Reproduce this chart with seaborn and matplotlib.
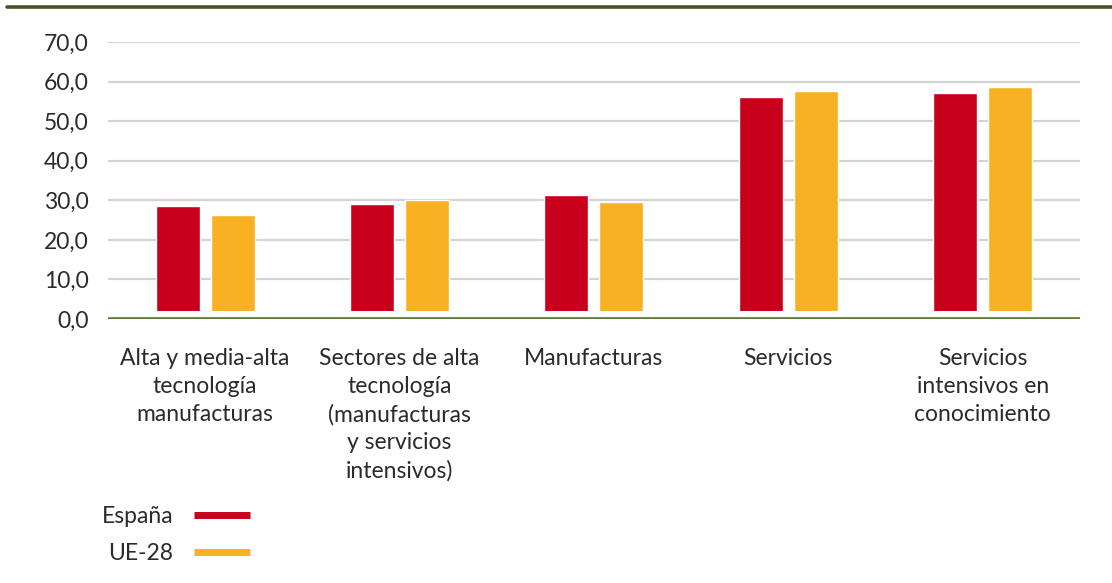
import matplotlib
matplotlib.use('Agg')

import pandas as pd
import matplotlib.pyplot as plt
import seaborn as sns
from matplotlib.lines import Line2D

# -------------------------------
# Data
# -------------------------------
categories = [
    "Alta y media-alta\ntecnología\nmanufacturas",
    "Sectores de alta\ntecnología\n(manufacturas\ny servicios\nintensivos)",
    "Manufacturas",
    "Servicios",
    "Servicios\nintensivos en\nconocimiento",
]
espana = [28.5, 29.0, 31.3, 56.1, 57.1]
ue28 = [26.3, 30.1, 29.5, 57.6, 58.6]
series_names = ["España", "UE-28"]
yticks = [0, 10, 20, 30, 40, 50, 60, 70]

colors = {"España": "#c8001c", "UE-28": "#f7b122"}
text_color = "#2b2b2b"
fs = 16.5

df = pd.DataFrame({
    "categoria": categories * 2,
    "serie": [series_names[0]] * len(categories) + [series_names[1]] * len(categories),
    "valor": espana + ue28,
})

sns.set_style("white")
plt.rcParams['font.family'] = ['Lato', 'DejaVu Sans']

fig = plt.figure(figsize=(11.12, 5.83), dpi=100)
ax = fig.add_axes([0.0971, 0.4528, 0.8740, 0.4752])

sns.barplot(data=df, x="categoria", y="valor", hue="serie", palette=colors,
            width=0.566, gap=0.2, ax=ax, legend=False, saturation=1, zorder=2)

ax.set_ylim(0, 70)
ax.set_xlim(-0.5, len(categories) - 0.5)
ax.set_yticks(yticks)
ax.set_yticklabels([f"{v:.1f}".replace(".", ",") for v in yticks])
ax.set_xlabel("")
ax.set_ylabel("")

# grid + axis line
ax.grid(axis="y", color="#d3d3d3", linewidth=1.6, zorder=0)
ax.set_axisbelow(True)
for s in ax.spines.values():
    s.set_visible(False)
# small white gap between bars and the base line (as in the original)
ax.axhspan(0, 2.0, facecolor="white", edgecolor="none", zorder=3)
ax.axhline(0, color="#5b7a33", linewidth=2.6, zorder=4)

ax.tick_params(axis="y", length=0, pad=14, labelsize=fs, labelcolor=text_color)
ax.tick_params(axis="x", length=0, pad=21, labelsize=fs, labelcolor=text_color)
for lbl in ax.get_xticklabels():
    lbl.set_linespacing(1.4)
    lbl.set_verticalalignment("top")

# top decorative line
fig.add_artist(Line2D([0.0063, 1.0], [0.988, 0.988], color="#4a5428",
                      linewidth=2.6, transform=fig.transFigure))

# legend: label first, then line
handles = [Line2D([], [], color=colors[n], linewidth=5, solid_capstyle="butt")
           for n in series_names]
fig.legend(handles, series_names, loc="upper left", bbox_to_anchor=(0.073, 0.167),
           frameon=False, markerfirst=False, fontsize=fs, handlelength=2.45,
           handletextpad=0.9, labelspacing=0.69, labelcolor=text_color)

plt.savefig("out.png", dpi=100)
